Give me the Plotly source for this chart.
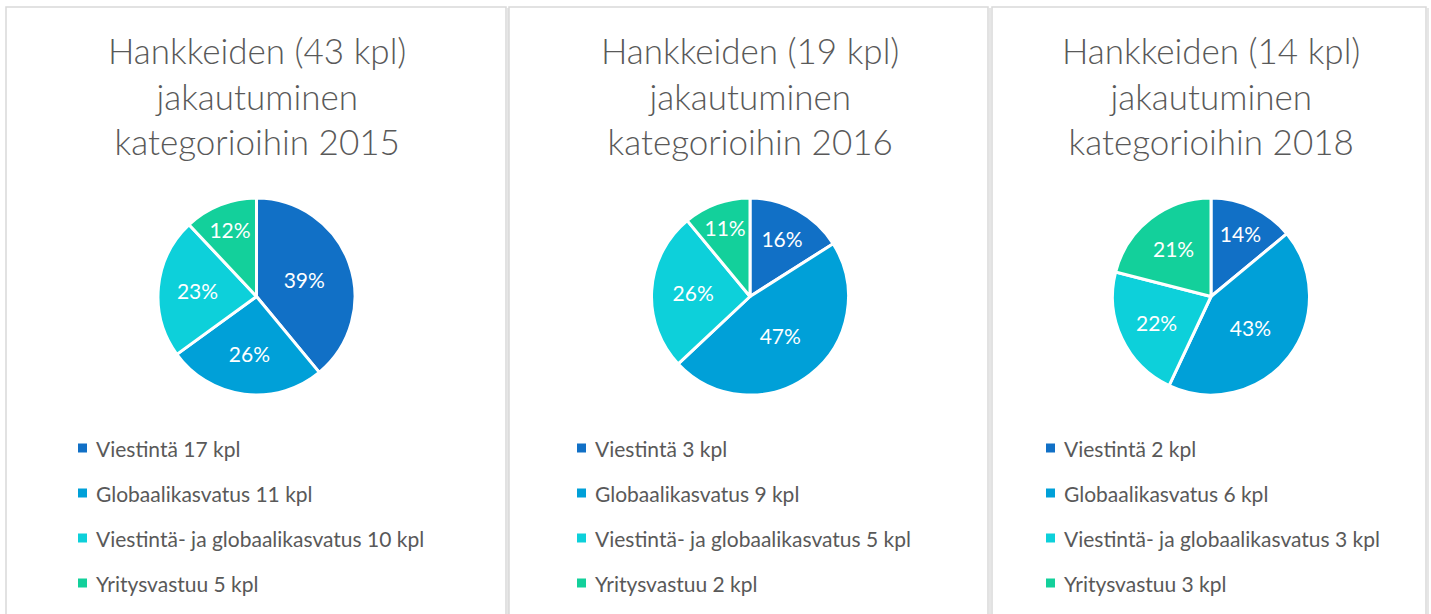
import plotly.graph_objects as go

W, H = 1431, 614

categories = ["Viestintä", "Globaalikasvatus", "Viestintä- ja globaalikasvatus", "Yritysvastuu"]
colors = ["#1170C6", "#00A0D8", "#0DD0DA", "#13D09B"]

years = ["2015", "2016", "2018"]
totals = [43, 19, 14]
counts_2015 = [17, 11, 10, 5]
counts_2016 = [3, 9, 5, 2]
counts_2018 = [2, 6, 3, 3]
pct_2015 = [39, 26, 23, 12]
pct_2016 = [16, 47, 26, 11]
pct_2018 = [14, 43, 22, 21]

counts = [counts_2015, counts_2016, counts_2018]
pcts = [pct_2015, pct_2016, pct_2018]

# panel layout in pixels
panels = [(6, 506), (509, 988), (992, 1426)]
pie_cx = [256.5, 750, 1211]
legend_x = [78, 577, 1046]
pie_cy, pie_r = 296.5, 98.5
legend_y = [448, 493, 538, 583]

font = "Lato"
grey = "#595959"


def px(x):
    return x / W


def py(y):
    return 1 - y / H


fig = go.Figure()
shapes = []
annotations = []

for i, year in enumerate(years):
    cx = pie_cx[i]
    labels = [f"{c} {n} kpl" for c, n in zip(categories, counts[i])]
    fig.add_trace(go.Pie(
        labels=labels,
        values=pcts[i],
        sort=False,
        direction="clockwise",
        rotation=0,
        marker=dict(colors=colors, line=dict(color="white", width=3)),
        texttemplate="%{value}%",
        textposition="inside",
        insidetextorientation="horizontal",
        textfont=dict(family=font, size=21, color="white"),
        domain=dict(x=[px(cx - pie_r), px(cx + pie_r)],
                    y=[py(pie_cy + pie_r), py(pie_cy - pie_r)]),
        showlegend=False,
    ))

    # panel frame with a faint shadow line on the right
    x0, x1 = panels[i]
    shapes.append(dict(type="line", xref="paper", yref="paper",
                       x0=px(x1 + 2), x1=px(x1 + 2), y0=py(H + 20), y1=py(8),
                       line=dict(color="#E6E6E6", width=2)))
    shapes.append(dict(type="rect", xref="paper", yref="paper",
                       x0=px(x0), x1=px(x1), y0=py(H + 20), y1=py(7),
                       line=dict(color="#D9D9D9", width=1.5)))

    annotations.append(dict(
        text=f"Hankkeiden ({totals[i]} kpl)<br>jakautuminen<br>kategorioihin {year}",
        x=px(cx), y=py(27), xref="paper", yref="paper",
        xanchor="center", yanchor="top", showarrow=False,
        font=dict(family=font, size=35, color=grey, weight=300)))

    for j, lab in enumerate(labels):
        lx, ly = legend_x[i], legend_y[j]
        shapes.append(dict(type="rect", xref="paper", yref="paper",
                           x0=px(lx), x1=px(lx + 9), y0=py(ly + 4.5), y1=py(ly - 4.5),
                           fillcolor=colors[j], line=dict(width=0)))
        annotations.append(dict(
            text=lab, x=px(lx + 16), y=py(ly), xref="paper", yref="paper",
            xanchor="left", yanchor="middle", showarrow=False,
            font=dict(family=font, size=21, color=grey)))

fig.update_layout(
    width=W, height=H,
    margin=dict(l=0, r=0, t=0, b=0),
    paper_bgcolor="white",
    plot_bgcolor="white",
    shapes=shapes,
    annotations=annotations,
)

fig.write_html("out.html", config={"displayModeBar": False},
               post_script="document.body.style.margin='0';")
